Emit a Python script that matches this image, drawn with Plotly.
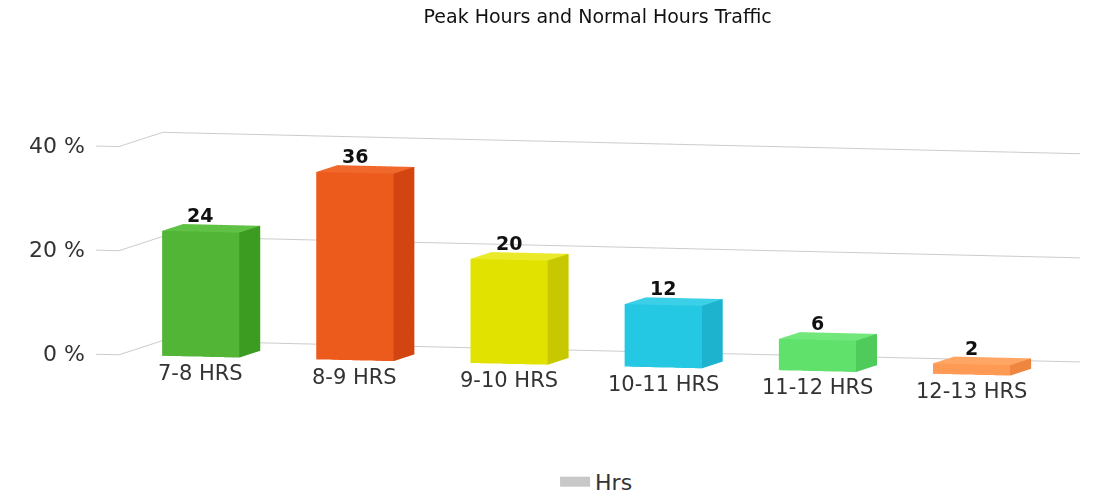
import math
import plotly.graph_objects as go

# ---- data ----
categories = ["7-8 HRS", "8-9 HRS", "9-10 HRS", "10-11 HRS", "11-12 HRS", "12-13 HRS"]
values = [24, 36, 20, 12, 6, 2]
front_colors = ["#52B535", "#EC5A1C", "#E2E200", "#24C8E3", "#60E16C", "#FF9A55"]
side_colors = ["#3C9C22", "#D24510", "#C8C800", "#1DB2CD", "#4ECB5A", "#EE8640"]
top_colors = ["#60C244", "#F0682C", "#EAEA2A", "#3CD0E8", "#72E87C", "#FFA664"]
z_ticks = [0, 20, 40]
z_ticktext = ["0 %", "20 %", "40 %"]
legend_name = "Hrs"

# ---- style ----
HW = 0.25            # bar half-width (category units)
Y0, Y1 = 0.0, 0.48   # bar depth extent (scene y range 0..1)
XMIN, XMAX = -0.53, 5.42
TICK_EXT = 0.15
FONT = "DejaVu Sans, Liberation Sans, Arial"
PX_PER_X = 6.16 / 6.02   # scene units per category unit

xs, ys, zs, I, J, K, fc = [], [], [], [], [], [], []
for idx, (v, cf, cs, ct) in enumerate(zip(values, front_colors, side_colors, top_colors)):
    x0, x1 = idx - HW, idx + HW
    base = len(xs)
    corners = [(x0, Y0, 0), (x1, Y0, 0), (x1, Y1, 0), (x0, Y1, 0),
               (x0, Y0, v), (x1, Y0, v), (x1, Y1, v), (x0, Y1, v)]
    for c in corners:
        xs.append(c[0]); ys.append(c[1]); zs.append(c[2])
    faces = [((0, 1, 5), cf), ((0, 5, 4), cf),
             ((1, 2, 6), cs), ((1, 6, 5), cs),
             ((4, 5, 6), ct), ((4, 6, 7), ct),
             ((0, 3, 7), cf), ((0, 7, 4), cf),
             ((3, 2, 6), cf), ((3, 6, 7), cf),
             ((0, 1, 2), cf), ((0, 2, 3), cf)]
    for (a, b, c), col in faces:
        I.append(base + a); J.append(base + b); K.append(base + c); fc.append(col)

fig = go.Figure()

# gridlines on left wall + back wall (drawn from the z tick values)
gx, gy, gz = [], [], []
for t in z_ticks:
    gx += [XMIN - TICK_EXT, XMIN, XMIN, XMAX, None]
    gy += [0, 0, 1, 1, None]
    gz += [t, t, t, t, None]
fig.add_trace(go.Scatter3d(x=gx, y=gy, z=gz, mode="lines", line=dict(color="#cccccc", width=2),
                           showlegend=False, hoverinfo="skip"))

fig.add_trace(go.Mesh3d(x=xs, y=ys, z=zs, i=I, j=J, k=K, facecolor=fc,
                        flatshading=True, showlegend=False, hoverinfo="skip",
                        lighting=dict(ambient=1, diffuse=0, specular=0, roughness=1, fresnel=0)))

# legend entry
fig.add_trace(go.Scatter(x=[None], y=[None], mode="lines", name=legend_name,
                         line=dict(color="#c8c8c8", width=15), showlegend=True))

annotations = []
for idx, (cat, v) in enumerate(zip(categories, values)):
    annotations.append(dict(x=idx, y=Y0, z=0, text=cat, showarrow=False, yanchor="top", yshift=-3,
                            font=dict(family=FONT, size=21, color="#333333")))
    annotations.append(dict(x=idx, y=Y0, z=v, text="<b>%d</b>" % v, showarrow=False,
                            yanchor="bottom", yshift=3,
                            font=dict(family=FONT, size=19, color="#111111")))
for t, tt in zip(z_ticks, z_ticktext):
    annotations.append(dict(x=XMIN - TICK_EXT, y=0, z=t, text=tt, showarrow=False, xanchor="right", xshift=-8,
                            font=dict(family=FONT, size=22, color="#333333")))

ax_common = dict(showgrid=False, zeroline=False, showline=False, showticklabels=False, ticks="",
                 title="", showbackground=False, showspikes=False)

theta = math.radians(15)
phi = math.radians(5)
D = 3.0
eye = dict(x=D * math.sin(theta) * math.cos(phi), y=-D * math.cos(theta) * math.cos(phi), z=D * math.sin(phi))

fig.update_layout(
    width=1096, height=495,
    paper_bgcolor="white", plot_bgcolor="white",
    margin=dict(l=0, r=0, t=0, b=0),
    title=dict(text="Peak Hours and Normal Hours Traffic", x=0.538, xanchor="center", y=0.983, yanchor="middle",
               font=dict(family=FONT, size=19, color="#111111")),
    xaxis=dict(visible=False), yaxis=dict(visible=False),
    showlegend=True,
    legend=dict(orientation="h", x=0.537, xanchor="center", y=-0.004, yanchor="middle",
                font=dict(family=FONT, size=22, color="#333333")),
    hovermode=False,
    scene=dict(
        domain=dict(x=[0.058, 1.0], y=[0.15, 0.81]),
        xaxis=dict(range=[XMIN - TICK_EXT, XMAX], **ax_common),
        yaxis=dict(range=[0, 1], **ax_common),
        zaxis=dict(range=[0, 40], **ax_common),
        aspectmode="manual",
        aspectratio=dict(x=PX_PER_X * (XMAX - XMIN + TICK_EXT), y=0.81 * 1.34, z=1.34),
        camera=dict(eye=eye, center=dict(x=0, y=0, z=0), up=dict(x=0, y=0, z=1),
                    projection=dict(type="orthographic")),
        annotations=annotations,
        dragmode=False,
    ),
)

fig.write_html("out.html")
